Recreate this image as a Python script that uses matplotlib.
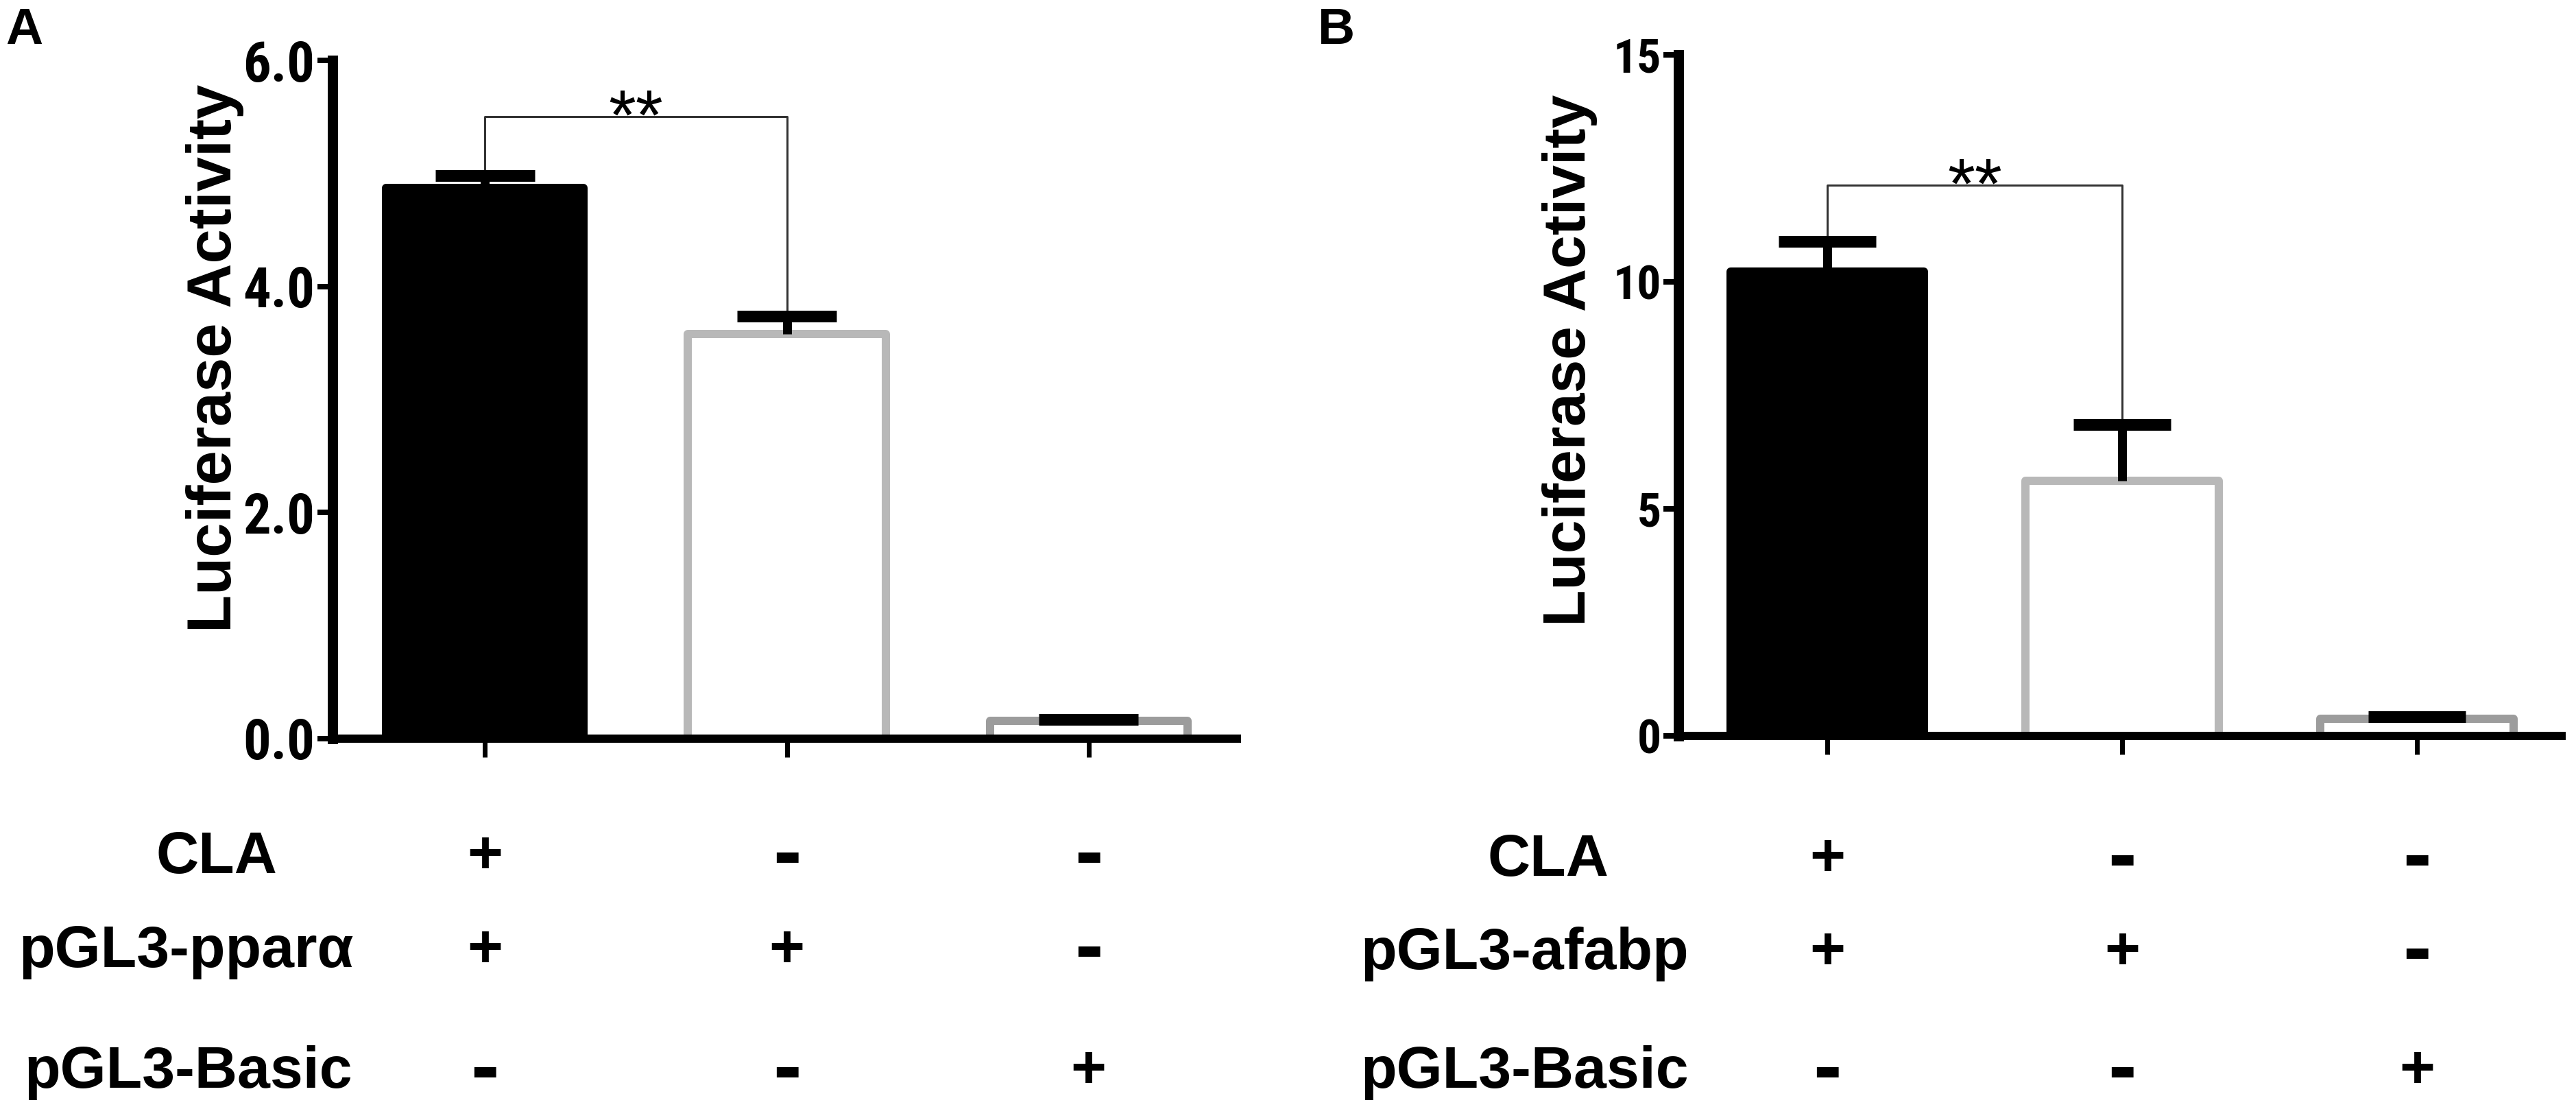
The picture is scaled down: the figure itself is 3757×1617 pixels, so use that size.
import matplotlib
matplotlib.use("Agg")
import os
import matplotlib.pyplot as plt
import matplotlib.transforms as mtransforms
from matplotlib.ticker import FixedLocator, FormatStrFormatter
from matplotlib.font_manager import FontProperties, fontManager

plt.rcParams['font.family'] = ['Liberation Sans', 'DejaVu Sans']

# ---------------- data ----------------
groups = [0, 1, 2]

means_A = [4.87, 3.58, 0.16]
errs_A = [0.11, 0.16, 0.01]
yticks_A = [0.0, 2.0, 4.0, 6.0]
bracket_A = 5.50
row_labels_A = ['CLA', 'pGL3-ppar\u03b1', 'pGL3-Basic']
signs_A = [['+', '-', '-'],
           ['+', '+', '-'],
           ['-', '-', '+']]

means_B = [10.22, 5.62, 0.38]
errs_B = [0.67, 1.24, 0.04]
yticks_B = [0, 5, 10, 15]
bracket_B = 12.13
row_labels_B = ['CLA', 'pGL3-afabp', 'pGL3-Basic']
signs_B = [['+', '-', '-'],
           ['+', '+', '-'],
           ['-', '-', '+']]

ylabel = 'Luciferase Activity'
star_text = '**'

# ---------------- styles ----------------
W, H = 3757, 1617
DPI = 100
PT = 72.0 / DPI  # points per pixel

face_colors = ['black', 'white', 'white']
edge_colors = ['black', '#b8b8b8', '#9c9c9c']


def find_narrow_bold():
    prefs = ['liberationsansnarrow-bold.', 'arialnarrow', 'robotocondensed-bold',
             'notosans-condensedbold', 'notosanscondensed-bold', 'opensanscondensed-bold',
             'opensans-condensedbold', 'notosans-semicondensedbold']
    files = [f.fname for f in fontManager.ttflist]
    low = [os.path.basename(p).lower() for p in files]
    for pref in prefs:
        for p, b in zip(files, low):
            if b.startswith(pref) and 'italic' not in b:
                return FontProperties(fname=p)
    for p, b in zip(files, low):
        if ('narrow' in b or 'condensed' in b) and 'bold' in b and 'italic' not in b \
                and 'oblique' not in b and 'extra' not in b and 'semibold' not in b \
                and 'dejavu' not in b:
            return FontProperties(fname=p)
    return None


narrow = find_narrow_bold()
tick_scale = 1.0
if narrow is None:
    narrow = FontProperties(family='Liberation Sans', weight='bold')
    tick_scale = 0.85

fig = plt.figure(figsize=(W / DPI, H / DPI), dpi=DPI)


def px_rect(l, r, b, t):
    return [l / W, 1 - b / H, (r - l) / W, (b - t) / H]


def panel(rect, means, errs, yticks, fmt, bracket, tick_size, tick_pad,
          bar_w, label_xy, label_size, rows, signs, row_x, row_base, letter, letter_x):
    ax = fig.add_axes(rect)
    ax.set_xlim(-0.505, 2.505)
    ax.set_ylim(yticks[0], yticks[-1])
    for s in ['top', 'right']:
        ax.spines[s].set_visible(False)
    ax.spines['left'].set_linewidth(15 * PT)
    ax.spines['bottom'].set_linewidth(12 * PT)
    ax.spines['left'].set_capstyle('projecting')
    ax.spines['bottom'].set_capstyle('butt')

    ax.bar(groups, means, width=bar_w, color=face_colors, edgecolor=edge_colors,
           linewidth=12 * PT, joinstyle='round', zorder=1)
    tops = [m + e for m, e in zip(means, errs)]
    capw = 0.165
    ax.vlines(groups, means, tops, colors='black', linewidth=13 * PT, zorder=3)
    ax.hlines(tops, [g - capw for g in groups], [g + capw for g in groups],
              colors='black', linewidth=17 * PT, zorder=3)

    # significance bracket between group 0 and 1
    ax.plot([groups[0], groups[0], groups[1], groups[1]],
            [tops[0], bracket, bracket, tops[1]],
            color='#333333', linewidth=3 * PT, solid_joinstyle='round', zorder=2)
    ax.annotate(star_text, xy=((groups[0] + groups[1]) / 2, bracket),
                xytext=(0, -24), textcoords='offset points',
                ha='center', va='baseline', fontsize=74, color='black')

    ax.yaxis.set_major_locator(FixedLocator(yticks))
    ax.yaxis.set_major_formatter(FormatStrFormatter(fmt))
    ax.set_xticks(groups)
    ax.tick_params(axis='y', direction='out', length=22 * PT, width=8 * PT,
                   pad=tick_pad, labelsize=tick_size * tick_scale)
    ax.tick_params(axis='x', direction='out', length=27 * PT, width=7 * PT,
                   labelbottom=False)
    for lab in ax.get_yticklabels():
        lab.set_fontproperties(narrow)
        lab.set_fontsize(tick_size * tick_scale)

    fig.text(label_xy[0] / W, 1 - label_xy[1] / H, ylabel, rotation=90,
             ha='center', va='center', fontsize=label_size, fontweight='bold')

    trans = mtransforms.blended_transform_factory(ax.transData, fig.transFigure)
    for i, (name, row) in enumerate(zip(rows, signs)):
        yb = 1 - row_base[i] / H
        fig.text(row_x[i] / W, yb, name, ha='center', va='baseline',
                 fontsize=62, fontweight='bold')
        for g, s in zip(groups, row):
            if s == '-':
                ax.text(g, yb - 10 / H, s, transform=trans, ha='center', va='baseline',
                        fontsize=90, fontweight='bold', clip_on=False)
            else:
                ax.text(g, yb, s, transform=trans, ha='center', va='baseline',
                        fontsize=64, fontweight='bold', clip_on=False)

    fig.text(letter_x / W, 1 - 64 / H, letter, ha='left', va='baseline',
             fontsize=54, fontweight='bold')
    return ax


panel(px_rect(485, 1810, 1077, 88), means_A, errs_A, yticks_A, '%.1f', bracket_A,
      58, 4 * PT, 0.655, (313, 522), 65, row_labels_A, signs_A,
      [316, 272, 275], [1273, 1410, 1586], 'A', 8)

panel(px_rect(2448, 3742, 1073, 80), means_B, errs_B, yticks_B, '%d', bracket_B,
      50, 3 * PT, 0.657, (2289, 525), 63, row_labels_B, signs_B,
      [2258, 2224, 2224], [1277, 1413, 1586], 'B', 1922)

fig.savefig('out.png', dpi=DPI, facecolor='white')
